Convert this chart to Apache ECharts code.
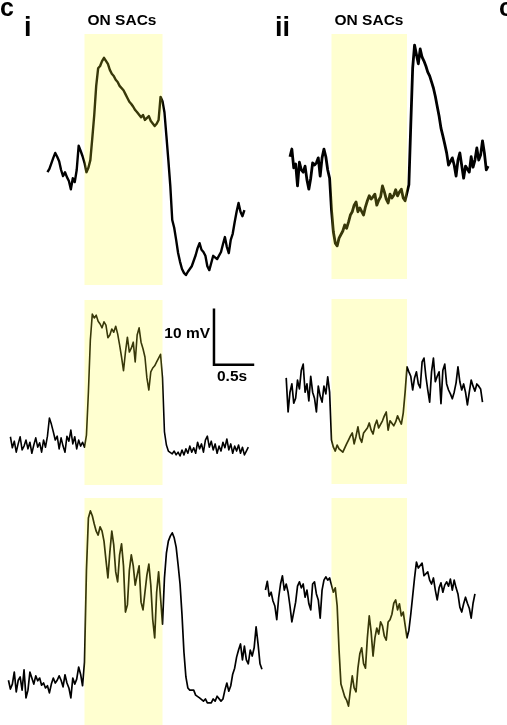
<!DOCTYPE html>
<html><head><meta charset="utf-8">
<script src="https://cdn.jsdelivr.net/npm/echarts@6/dist/echarts.min.js"></script>
<style>html,body{margin:0;padding:0;background:#fff}#c{width:507px;height:725px}</style>
</head><body><div id="c"></div>
<script>
// ---------------- data (membrane potential, mV relative to baseline; sampled every DT s) ----------------
const DT = 0.025;          // sample interval, s
const STIM = [0, 1];       // light stimulus on / off, s
const SCALE_MV = 10;       // vertical scale bar, mV
const SCALE_S = 0.5;       // horizontal scale bar, s
const SCALE_ANCHOR = [1.66, 14.6]; // scale bar corner (s, mV) in panel i middle trace

const iTopStart = -0.475;
const iTop = [-0.4,0.2,0.5,2.2,3.1,2.4,1.6,0,-1.1,-0.4,
-1.3,-2.0,-3.5,-1.5,-2.2,0,4.4,3.5,2.5,1.3,
-0.4,0.4,1.8,5.8,10.0,15.3,18.5,18.9,19.8,20.4,
20.5,19.3,18.2,17.5,17.1,16.4,16.0,15.3,15.6,14.5,
13.8,13.1,12.4,12.0,11.5,10.9,10.5,10.2,9.6,10.0,
9.1,9.3,9.8,8.9,8.7,8.0,8.4,9.1,13.3,12.5,
10.5,6.2,1.8,-2.9,-9.1,-10.5,-12.7,-15.1,-16.7,-18.0,
-18.7,-19.1,-18.5,-18.0,-17.5,-16.5,-15.5,-14.2,-13.3,-14.5,
-14.9,-15.6,-17.5,-18.2,-16.9,-15.6,-15.3,-16.2,-16.0,-14.9,
-13.5,-12.2,-14.0,-15.1,-12.7,-11.6,-9.5,-7.6,-6.0,-7.6,
-8.4,-7.3];

const iiTopStart = -0.55;
const iiTop = [1.5,2.9,-0.5,0.2,-3.8,0.5,-0.9,-1.3,-0.2,-2.7,
-4.4,-2.4,0.4,0,0.4,1.3,-2.0,1.3,2.9,1.5,
-0.9,-2.4,-8.2,-12.2,-14.2,-14.7,-13.3,-13.5,-12.0,-10.9,
-11.5,-10.4,-9.1,-8.5,-7.3,-6.7,-8.5,-7.8,-7.5,-9.1,
-7.6,-6.5,-5.6,-6.2,-5.8,-5.3,-7.3,-6.4,-5.8,-3.8,
-4.9,-6.2,-6.9,-5.3,-6.0,-5.5,-4.5,-5.6,-4.9,-4.4,
-6.0,-6.5,-6.5,-3.6,7.3,17.6,21.8,21.5,18.4,21.1,
19.6,18.9,18.0,16.9,16.2,15.1,14.0,12.5,10.7,8.9,
6.7,5.3,3.8,2.2,0,-0.2,1.3,0,-2.0,0.9,
2.2,2.4,-2.4,-0.2,-0.5,-1.3,1.5,-0.4,0.9,3.1,
0.9,1.8,4.4,2.2,-0.9,-0.2];

const iMidStart = -0.95;
const iMid = [1.5,-0.5,0.7,-1.3,0.2,1.5,-0.9,-0.2,0.9,-0.7,
0.5,-1.5,0,1.3,-0.4,0.4,-1.3,0.9,-0.4,1.6,
4.9,3.8,2.4,0.9,1.6,-0.7,1.3,-0.2,-1.3,1.6,
0.7,2.7,0.2,1.5,-0.7,0.9,-0.2,0.5,-0.4,1.8,
9.6,19.1,23.8,23.1,23.6,22.5,22.0,21.3,22.4,21.8,
19.5,20.0,21.1,20.5,21.6,20.2,18.2,16.0,13.5,16.9,
19.6,16.9,17.6,18.7,15.1,20.0,21.3,18.7,17.5,16.0,
12.2,10.0,13.3,14.0,14.4,15.1,15.8,16.5,12.2,2.4,
0,-1.1,-1.3,-1.6,-1.1,-1.8,-1.3,-2.0,-0.9,-1.8,
-0.7,-1.5,-0.2,-1.3,-0.5,-1.5,0.5,-0.7,0.2,-1.3,
0.9,1.6,-0.4,0.7,-0.9,0.2,-1.5,-0.2,-1.1,0.5,
-0.5,1.1,-0.9,0.2,-1.5,-0.2,-1.1,0,-1.5,-0.4,
-1.8,-1.1,-0.4];

const iiMidStart = -0.6;
const iiMid = [2.2,-4.0,-0.4,1.1,-2.4,-1.5,1.8,0.2,3.6,4.7,
-0.4,1.1,-2.0,2.5,-0.4,-1.5,-4.0,0.7,-1.1,-2.2,
0.7,-0.7,2.4,-0.4,-9.1,-10.4,-11.1,-10.0,-10.7,-10.4,
-11.3,-11.6,-9.8,-9.1,-8.4,-7.8,-9.8,-8.4,-6.7,-8.7,
-9.5,-7.8,-7.5,-6.9,-6.0,-7.3,-8.0,-6.4,-5.5,-6.9,
-7.1,-5.6,-4.7,-4.0,-7.3,-5.6,-5.8,-6.5,-5.8,-4.7,
-5.5,-6.2,-4.2,-0.4,4.2,3.3,2.5,0,2.2,3.3,
1.1,0.4,5.1,5.8,2.5,0,-2.2,3.3,5.8,1.5,
2.5,3.3,-2.5,3.6,4.7,1.1,0,-0.7,-1.6,-0.4,
1.3,4.2,1.5,0,1.1,-0.4,-2.7,-0.4,1.8,0.7,
-0.2,1.1,0.7,0.2,-2.2];

const iBotStart = -0.975;
const iBot = [0.5,-1.1,-0.2,2.0,-1.6,0.5,1.1,-1.3,2.4,-2.7,
-1.3,2.0,0.9,-0.2,1.3,0.4,0.9,-0.4,0,-0.9,
-0.5,-1.8,-0.2,0.9,0,0.5,1.3,0.5,-0.7,1.5,
0,-0.9,-2.7,0.9,-0.2,0.7,2.9,1.6,-0.5,3.8,
20.5,30.0,31.3,30.4,28.9,27.6,26.9,28.4,27.6,25.8,
22.4,19.1,23.8,27.6,25.1,20.2,18.4,23.3,25.3,21.3,
12.9,14.2,20.5,23.3,21.3,17.8,19.6,21.3,14.7,13.3,
16.5,19.6,21.6,17.8,11.5,8.2,16.5,20.2,15.5,10.7,
19.1,23.6,25.8,26.7,27.3,26.4,24.7,21.5,18.0,12.4,
5.6,1.1,-0.9,-1.3,-1.6,-1.3,-2.2,-2.0,-2.7,-2.5,
-3.3,-2.9,-3.6,-3.3,-3.6,-2.9,-3.3,-2.4,-2.7,-3.3,
-2.9,-1.3,0,-1.5,-0.5,1.6,2.7,4.7,6.0,7.1,
4.2,6.7,4.2,3.5,6.0,4.9,6.4,10.2,7.1,3.5,
2.5];

const iiBotStart = -0.875;
const iiBot = [0.9,2.5,-0.2,0.5,-1.1,-2.0,-4.5,-0.5,2.0,3.5,
0.9,2.0,0.5,-2.0,-4.9,-3.1,-1.3,1.6,2.4,1.3,
2.0,-0.4,0.9,-1.6,-2.7,2.0,2.4,0.2,-0.9,-4.2,
0.9,2.7,3.3,2.7,3.1,1.8,0.5,1.3,-2.0,-10.0,
-16.2,-17.3,-18.5,-19.1,-20.2,-17.3,-14.7,-16.9,-17.6,-13.3,
-10.7,-9.6,-12.5,-13.3,-7.8,-3.8,-6.7,-11.1,-7.8,-6.0,
-7.1,-4.9,-5.6,-7.5,-8.2,-4.9,-4.5,-3.5,-1.5,-0.9,
-2.7,-1.6,-3.8,-3.1,-3.1,-7.8,-6.4,-3.5,-0.2,3.1,
6.0,4.9,4.7,5.8,3.5,3.3,4.2,2.7,2.0,3.1,
0.9,-0.9,1.3,2.2,0.5,1.8,2.4,1.6,2.9,0.9,
2.7,1.3,0.2,-2.2,-3.1,-1.6,-0.4,-1.5,-2.4,-4.2,
-1.5,0.2];

// ---------------- layout ----------------
const PX_PER_MV = 5.5;
const PANELS = {
  i:  { onsetPx: 84.5,  pxPerS: 78,   left: 0,   width: 272 },
  ii: { onsetPx: 331.5, pxPerS: 75.5, left: 255, width: 245 }
};
const ROWS = [
  { panel: 'i',  top: 34,  bottom: 285, basePx: 170, lw: 2.4, start: iTopStart,  values: iTop },
  { panel: 'ii', top: 34,  bottom: 279, basePx: 165, lw: 2.8, start: iiTopStart, values: iiTop },
  { panel: 'i',  top: 300, bottom: 485, basePx: 445, lw: 1.6, start: iMidStart,  values: iMid, scaleBar: true },
  { panel: 'ii', top: 299, bottom: 484, basePx: 390, lw: 1.7, start: iiMidStart, values: iiMid },
  { panel: 'i',  top: 498, bottom: 725, basePx: 683, lw: 1.7, start: iBotStart,  values: iBot },
  { panel: 'ii', top: 498, bottom: 725, basePx: 595, lw: 1.7, start: iiBotStart, values: iiBot }
];
const FONT = '"Liberation Sans", Arial, Helvetica, sans-serif';
const YELLOW = 'rgba(255,255,40,0.22)';

const grid = [], xAxis = [], yAxis = [], series = [];
ROWS.forEach((r, k) => {
  const p = PANELS[r.panel];
  const yMin = -(r.bottom - r.basePx) / PX_PER_MV;
  const yMax = (r.basePx - r.top) / PX_PER_MV;
  grid.push({ left: p.left, top: r.top, width: p.width, height: r.bottom - r.top, containLabel: false });
  xAxis.push({ type: 'value', gridIndex: k, show: false,
    min: (p.left - p.onsetPx) / p.pxPerS, max: (p.left + p.width - p.onsetPx) / p.pxPerS });
  yAxis.push({ type: 'value', gridIndex: k, show: false, min: yMin, max: yMax });
  series.push({
    type: 'line', xAxisIndex: k, yAxisIndex: k, z: 2, silent: true, animation: false,
    symbol: 'none', showSymbol: false, clip: false,
    lineStyle: { color: '#000', width: r.lw, join: 'round' },
    data: r.values.map((v, j) => [r.start + j * DT, v])
  });
  series.push({
    type: 'line', xAxisIndex: k, yAxisIndex: k, z: 10, silent: true, animation: false, data: [],
    markArea: { silent: true, z: 10, animation: false, itemStyle: { color: YELLOW, borderWidth: 0 },
      data: [[{ xAxis: STIM[0], yAxis: yMin }, { xAxis: STIM[1], yAxis: yMax }]] }
  });
  if (r.scaleBar) {
    const [t, v] = SCALE_ANCHOR;
    series.push({
      type: 'line', xAxisIndex: k, yAxisIndex: k, z: 3, silent: true, animation: false,
      symbol: 'none', clip: false,
      lineStyle: { color: '#000', width: 2.5, cap: 'square', join: 'miter' },
      data: [[t, v + SCALE_MV], [t, v], [t + SCALE_S, v]]
    });
  }
});

function txt(x, y, text, size, align) {
  return { type: 'text', x: x, y: y, z: 20, silent: true,
    style: { text: text, font: 'bold ' + size + 'px ' + FONT, fill: '#000',
      textAlign: align || 'left', textVerticalAlign: 'middle' } };
}

const chart = echarts.init(document.getElementById('c'), null, { renderer: 'canvas' });
chart.setOption({
  backgroundColor: '#fff',
  animation: false,
  grid, xAxis, yAxis, series,
  graphic: [
    txt(0, 9, 'c', 25),
    txt(24, 28.5, 'i', 27),
    txt(275, 28.5, 'ii', 27),
    txt(122, 20.6, 'ON SACs', 15.5, 'center'),
    txt(369, 20.6, 'ON SACs', 15.5, 'center'),
    txt(210, 333.6, '10 mV', 15.5, 'right'),
    txt(217, 376.6, '0.5s', 15.5, 'left'),
    txt(499, 9, 'c', 25)
  ]
});
</script>
</body></html>
